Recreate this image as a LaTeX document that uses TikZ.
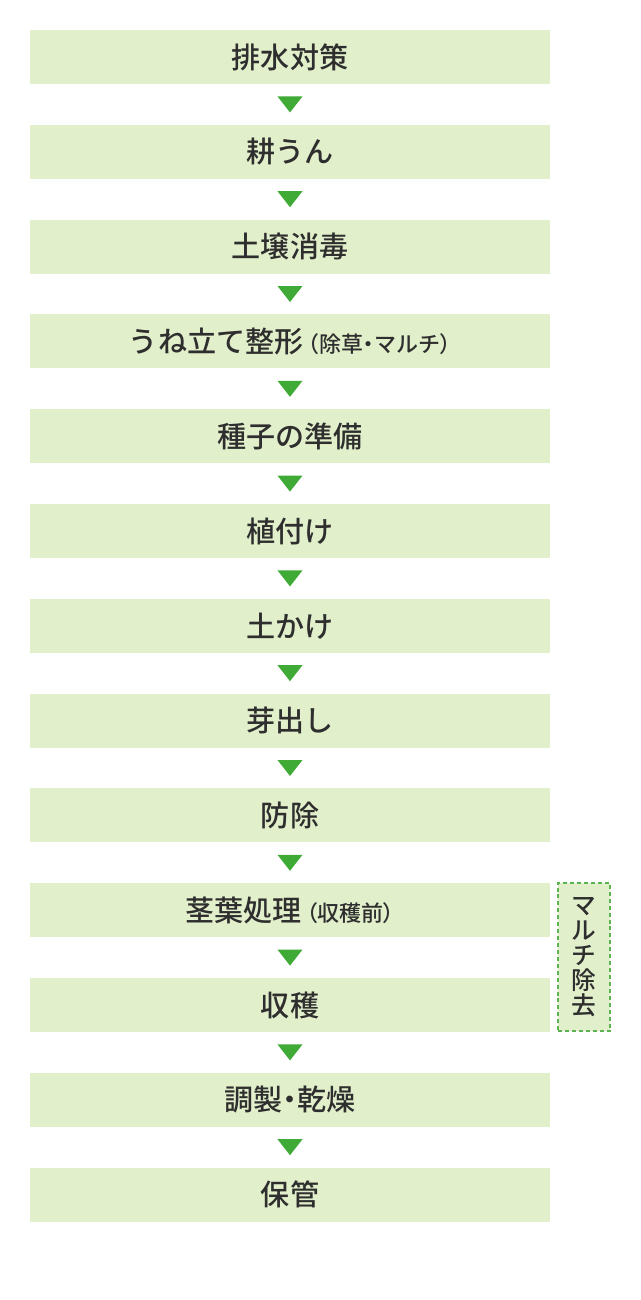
\documentclass[tikz,border=0pt]{standalone}
\usepackage{fontspec}
\newfontfamily\jp{Noto Sans CJK JP}[UprightFont={* Medium}]
\newfontfamily\jpp{Noto Sans CJK JP}[UprightFont={* Medium}, RawFeature=+palt]
\usetikzlibrary{calc}
\definecolor{boxgreen}{HTML}{E2EFCB}
\definecolor{arrowgreen}{HTML}{3FAA35}
\definecolor{dashgreen}{HTML}{5DB34F}
\definecolor{txt}{HTML}{2E2E2E}
\newcommand{\paren}[1]{\hspace{3.5pt}{\jpp\fontsize{16.5}{17}\selectfont（}{\fontsize{16.5}{17}\selectfont #1}{\jpp\fontsize{16.5}{17}\selectfont ）}}
\newcommand{\ndot}{{\jpp ・}}
\begin{document}
\begin{tikzpicture}[x=0.75pt,y=-0.75pt,
  stepbox/.style={fill=boxgreen, draw=none, minimum width=390pt, minimum height=40.5pt,
    inner sep=0pt, text=txt, font=\jp\fontsize{21.8}{23}\selectfont},
  sidebox/.style={fill=boxgreen, draw=dashgreen, dashed, dash pattern=on 3pt off 2.2pt, line width=0.9pt,
    minimum width=39pt, minimum height=111pt, inner sep=0pt, text=txt, align=center,
    font=\jp\fontsize{18.5}{18.8}\selectfont}]
\useasboundingbox (0,0) rectangle (640,1300);
\def\pitch{94.8}
\node[stepbox] (s1) at (290,57) {排水対策};
\node[stepbox] (s2) at (290,57+1*\pitch) {耕うん};
\node[stepbox] (s3) at (290,57+2*\pitch) {土壌消毒};
\node[stepbox] (s4) at (290,57+3*\pitch) {うね立て整形\paren{除草\ndot マルチ}};
\node[stepbox] (s5) at (290,57+4*\pitch) {種子の準備};
\node[stepbox] (s6) at (290,57+5*\pitch) {植付け};
\node[stepbox] (s7) at (290,57+6*\pitch) {土かけ};
\node[stepbox] (s8) at (290,57+7*\pitch) {芽出し};
\node[stepbox] (s9) at (290,57+8*\pitch) {防除};
\node[stepbox] (s10) at (290,57+9*\pitch) {茎葉処理\paren{収穫前}};
\node[stepbox] (s11) at (290,57+10*\pitch) {収穫};
\node[stepbox] (s12) at (290,57+11*\pitch) {調製\ndot 乾燥};
\node[stepbox] (s13) at (290,57+12*\pitch) {保管};
\node[sidebox] (side) at (584,957) {マ\\ル\\チ\\除\\去};
\foreach \a/\b in {s1/s2,s2/s3,s3/s4,s4/s5,s5/s6,s6/s7,s7/s8,s8/s9,s9/s10,s10/s11,s11/s12,s12/s13}{
  \coordinate (m) at ($(\a.south)!0.5!(\b.north)$);
  \fill[arrowgreen] ($(m)+(-12.5,-8)$) -- ($(m)+(12.5,-8)$) -- ($(m)+(0,8)$) -- cycle;
}
\end{tikzpicture}
\end{document}
